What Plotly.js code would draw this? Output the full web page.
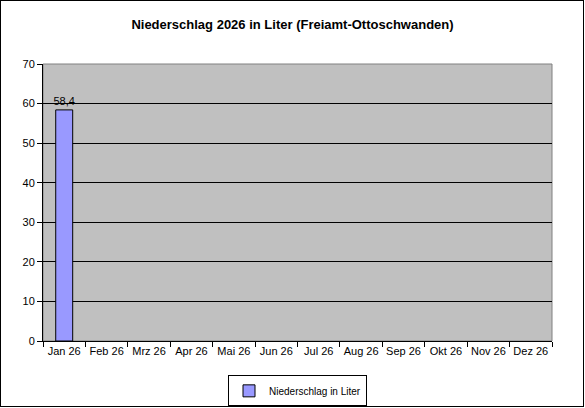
<!DOCTYPE html>
<html><head><meta charset="utf-8">
<script src="https://cdn.plot.ly/plotly-3.0.1.min.js"></script>
<style>
html,body{margin:0;padding:0;background:#fff;}
#wrap{position:relative;width:585px;height:408px;}
#chart{width:585px;height:408px;}
#frame{position:absolute;left:0;top:0;width:584px;height:407px;border:1px solid #000;box-sizing:border-box;pointer-events:none;}
</style></head>
<body>
<div id="wrap"><div id="chart"></div><div id="frame"></div></div>
<script>
const months = ["Jan 26","Feb 26","Mrz 26","Apr 26","Mai 26","Jun 26","Jul 26","Aug 26","Sep 26","Okt 26","Nov 26","Dez 26"];
const rain = [58.4,null,null,null,null,null,null,null,null,null,null,null];
const seriesName = "Niederschlag in Liter";
const chartTitle = "Niederschlag 2026 in Liter (Freiamt-Ottoschwanden)";

const trace = {
  type:"bar", x:months, y:rain, name:seriesName,
  marker:{color:"#9999FF", line:{color:"#000", width:1}},
  text: rain.map(v => v==null ? "" : v.toFixed(1).replace(".", ",")),
  textposition:"outside", cliponaxis:false, constraintext:"none",
  textfont:{family:"Liberation Sans, Arial", size:11, color:"#000"},
  showlegend:true
};
const layout = {
  width:585, height:408,
  margin:{l:43, r:33, t:64, b:67, autoexpand:false},
  paper_bgcolor:"#fff", plot_bgcolor:"#C0C0C0",
  separators:",.",
  font:{family:"Liberation Sans, Arial", size:11, color:"#000"},
  title:{text:"<b>"+chartTitle+"</b>", x:0.5, xanchor:"center", y:0.94, yanchor:"middle",
         font:{family:"Liberation Sans, Arial", size:13, color:"#000"}},
  bargap:0.6,
  xaxis:{type:"category", tickson:"boundaries", ticks:"outside", ticklen:5, tickcolor:"#000",
         showline:true, linecolor:"#000", linewidth:1, showgrid:false, mirror:false,
         tickangle:0, automargin:false, tickfont:{size:11}, fixedrange:true},
  yaxis:{range:[0,70], dtick:10, ticks:"outside", ticklen:5, tickcolor:"#000",
         showline:true, linecolor:"#000", linewidth:1, showgrid:true, gridcolor:"#000", gridwidth:1,
         zeroline:false, automargin:false, tickfont:{size:11}, fixedrange:true},
  shapes:[{type:"rect", xref:"paper", yref:"paper", x0:0, x1:1, y0:0, y1:1, line:{color:"#808080", width:1}, layer:"below"}],
  legend:{orientation:"h", x:0.5, xanchor:"center", y:-0.124, yanchor:"top",
          bordercolor:"#000", borderwidth:1, bgcolor:"#fff", font:{size:10}, itemwidth:30},
  showlegend:true
};
Plotly.newPlot("chart",[trace],layout,{displayModeBar:false, staticPlot:true});
</script>
</body></html>
